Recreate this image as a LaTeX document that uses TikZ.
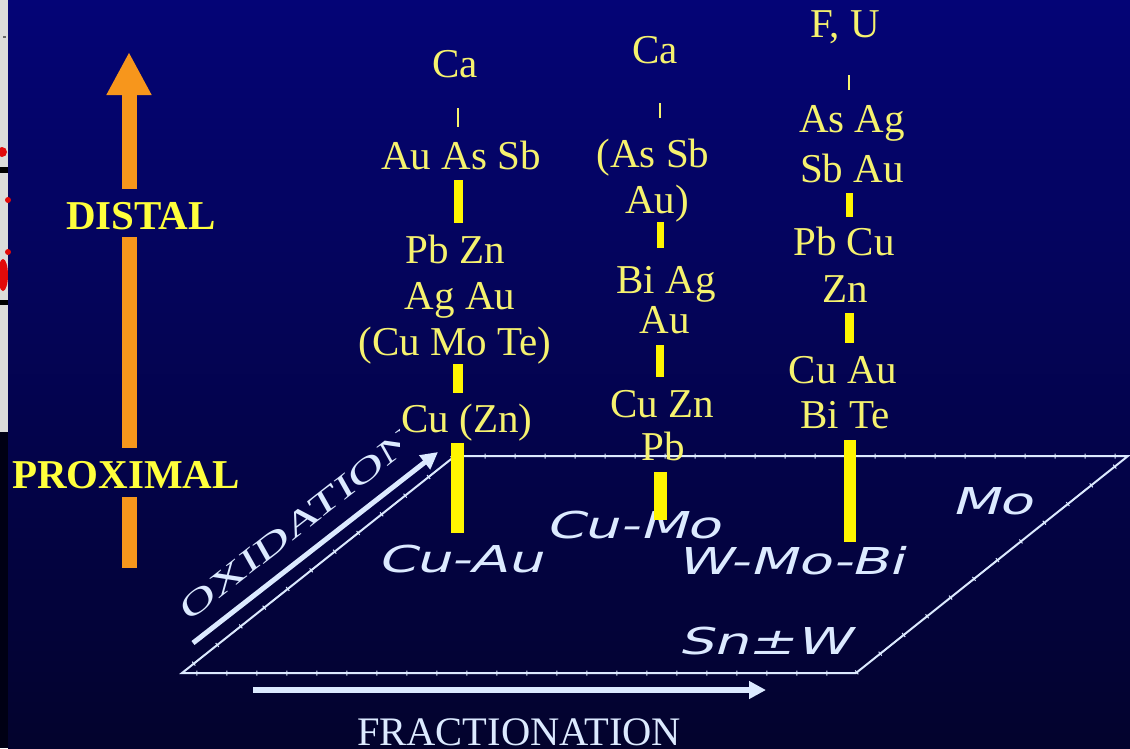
\documentclass[tikz,border=0pt]{standalone}
\usepackage{fontspec}
\setmainfont{Liberation Serif}
\newfontfamily\labfont{DejaVu Sans}[FakeSlant=0.3,FakeStretch=1.5]
\newfontfamily\oxfont{Liberation Serif}[FakeStretch=1.6,FakeSlant=0.15]
\usetikzlibrary{arrows.meta,decorations.pathreplacing}
\definecolor{bgtop}{RGB}{4,4,118}
\definecolor{bgbot}{RGB}{3,3,45}
\definecolor{eltext}{RGB}{246,242,110}
\definecolor{barcol}{RGB}{255,245,0}
\definecolor{orng}{RGB}{247,150,28}
\definecolor{dyel}{RGB}{255,255,60}
\definecolor{pale}{RGB}{220,234,255}
\definecolor{stripgrey}{RGB}{220,220,218}
\definecolor{stripred}{RGB}{225,10,10}
\begin{document}
\begin{tikzpicture}[x=1pt,y=-1pt,
  el/.style={font=\fontsize{41}{46}\selectfont, text=eltext, inner sep=0pt, anchor=base, text height=27pt, text depth=9pt},
  tickln/.style={draw=eltext, line width=2.2pt},
  ybar/.style={draw=barcol, line width=#1},
  sidelbl/.style={font=\bfseries\fontsize{41}{41}\selectfont, text=dyel, inner sep=0pt, anchor=base, text depth=0pt},
  oshaft/.style={draw=orng, line width=15pt},
  lbl/.style={font=\labfont\fontsize{37}{40}\selectfont, text=pale, inner sep=0pt},
  plane/.style={draw=pale, line width=2pt, line join=miter},
  planeticks/.style={draw=pale, line width=1pt, decorate, decoration={ticks, segment length=30pt, amplitude=2.5pt}},
  warrow/.style={draw=pale, line width=#1, -{Triangle[length=17pt,width=17pt]}},
  axtext/.style={text=pale, inner sep=0pt}
]
\useasboundingbox (0,0) rectangle (1130,748);
% background
\shade[top color=bgtop, bottom color=bgbot] (8,0) rectangle (1130,748);
% left strip (cropped slide edge)
\fill[stripgrey] (0,0) rectangle (8,432);
\fill[black!92!blue] (0,432) rectangle (8,748);
\fill[black] (0,167) rectangle (8,173);
\fill[black] (0,300) rectangle (8,305);
\fill[black!60] (3,36) rectangle (6,38);
\fill[stripred] (2,152) circle (5);
\fill[stripred] (8,200) circle (3);
\fill[stripred] (8,252) circle (3);
\fill[stripred] (3,275) ellipse (5 and 16);

% orange distal/proximal arrow
\coordinate (otip) at (129,52);
\coordinate (oend) at (129,568);
\node[sidelbl, text height=30pt] (distal) at (141,229) {DISTAL};
\node[sidelbl, text height=28pt] (proximal) at (126,488) {PROXIMAL};
\draw[oshaft, -{Triangle[length=43pt,width=42pt]}, shorten <=10pt] (distal.north -| otip) -- (otip);
\draw[oshaft, shorten <=8pt, shorten >=12pt] (distal.south -| otip) -- (proximal.north -| otip);
\draw[oshaft, shorten <=9pt] (proximal.south -| otip) -- (oend);

% plane
\coordinate (pTL) at (455,456);
\coordinate (pTR) at (1128,456);
\coordinate (pBR) at (856,673);
\coordinate (pBL) at (182,673);
\draw[plane] (pTL) -- (pTR) -- (pBR) -- (pBL) -- cycle;
\draw[planeticks] (pTL) -- (pTR) -- (pBR) -- (pBL) -- cycle;

% plane labels
\node[lbl] (lcuau) at (460,559) {Cu-Au};
\node[lbl] (lcumo) at (633,525) {Cu-Mo};
\node[lbl] (lwmobi) at (790,561) {W-Mo-Bi};
\node[lbl] (lmo) at (992,501) {Mo};
\node[lbl] (lsnw) at (764,641) {Sn±W};

% oxidation arrow and label
\coordinate (oxs) at (193,643);
\coordinate (oxe) at (438,452);
\draw[warrow=5pt] (oxs) -- (oxe);
\begin{scope}
\clip (0,0) rectangle (399,748);
\node[axtext, font=\oxfont\fontsize{33}{33}\selectfont, rotate=38] (oxl) at (296,525) {OXIDATION};
\end{scope}

% fractionation arrow and label
\coordinate (frs) at (253,690);
\coordinate (fre) at (766,690);
\draw[warrow=6pt] (frs) -- (fre);
\node[axtext, font=\fontsize{40.5}{41}\selectfont, anchor=base] (frl) at (519,745) {FRACTIONATION};

% column 1
\coordinate (c1x) at (458,0);
\node[el] (c1a) at (455,77) {Ca};
\node[el] (c1b) at (461,169) {Au As Sb};
\node[el] (c1c) at (455,263) {Pb Zn};
\node[el] (c1d) at (460,309) {Ag Au};
\node[el] (c1e) at (455,355) {(Cu Mo Te)};
\node[el] (c1f) at (467,432) {Cu (Zn)};
\coordinate (c1g) at (457,533);
\draw[tickln, shorten <=22pt, shorten >=15pt] (c1a.south -| c1x) -- (c1b.north -| c1x);
\draw[ybar=9pt, shorten <=2pt, shorten >=13pt] (c1b.south -| c1x) -- (c1c.north -| c1x);
\draw[ybar=10pt, shorten >=12pt] (c1e.south -| c1x) -- (c1f.north -| c1x);
\draw[ybar=13pt, shorten <=2pt] (c1f.south -| c1g) -- (c1g);

% column 2
\coordinate (c2x) at (660,0);
\node[el] (c2a) at (655,63) {Ca};
\node[el] (c2b) at (653,167) {(As Sb};
\node[el] (c2c) at (657,213) {Au)};
\node[el] (c2d) at (666,293) {Bi Ag};
\node[el] (c2e) at (665,333) {Au};
\node[el] (c2f) at (662,417) {Cu Zn};
\node[el] (c2h) at (663,460) {Pb};
\coordinate (c2g) at (660,520);
\draw[tickln, shorten <=31pt, shorten >=22pt] (c2a.south -| c2x) -- (c2b.north -| c2x);
\draw[ybar=7pt, shorten >=18pt] (c2c.south -| c2x) -- (c2d.north -| c2x);
\draw[ybar=8pt, shorten <=3pt, shorten >=13pt] (c2e.south -| c2x) -- (c2f.north -| c2x);
\draw[ybar=13pt, shorten <=3pt] (c2h.south -| c2g) -- (c2g);

% column 3
\coordinate (c3x) at (849,0);
\node[el] (c3a) at (845,37) {F, U};
\node[el] (c3b) at (852,132) {As Ag};
\node[el] (c3c) at (852,182) {Sb Au};
\node[el] (c3d) at (844,255) {Pb Cu};
\node[el] (c3e) at (845,302) {Zn};
\node[el] (c3f) at (843,383) {Cu Au};
\node[el] (c3h) at (845,428) {Bi Te};
\coordinate (c3g) at (850,542);
\draw[tickln, shorten <=29pt, shorten >=15pt] (c3a.south -| c3x) -- (c3b.north -| c3x);
\draw[ybar=7pt, shorten <=2pt, shorten >=11pt] (c3c.south -| c3x) -- (c3d.north -| c3x);
\draw[ybar=9pt, shorten <=2pt, shorten >=13pt] (c3e.south -| c3x) -- (c3f.north -| c3x);
\draw[ybar=12pt, shorten <=3pt] (c3h.south -| c3g) -- (c3g);
\end{tikzpicture}
\end{document}
